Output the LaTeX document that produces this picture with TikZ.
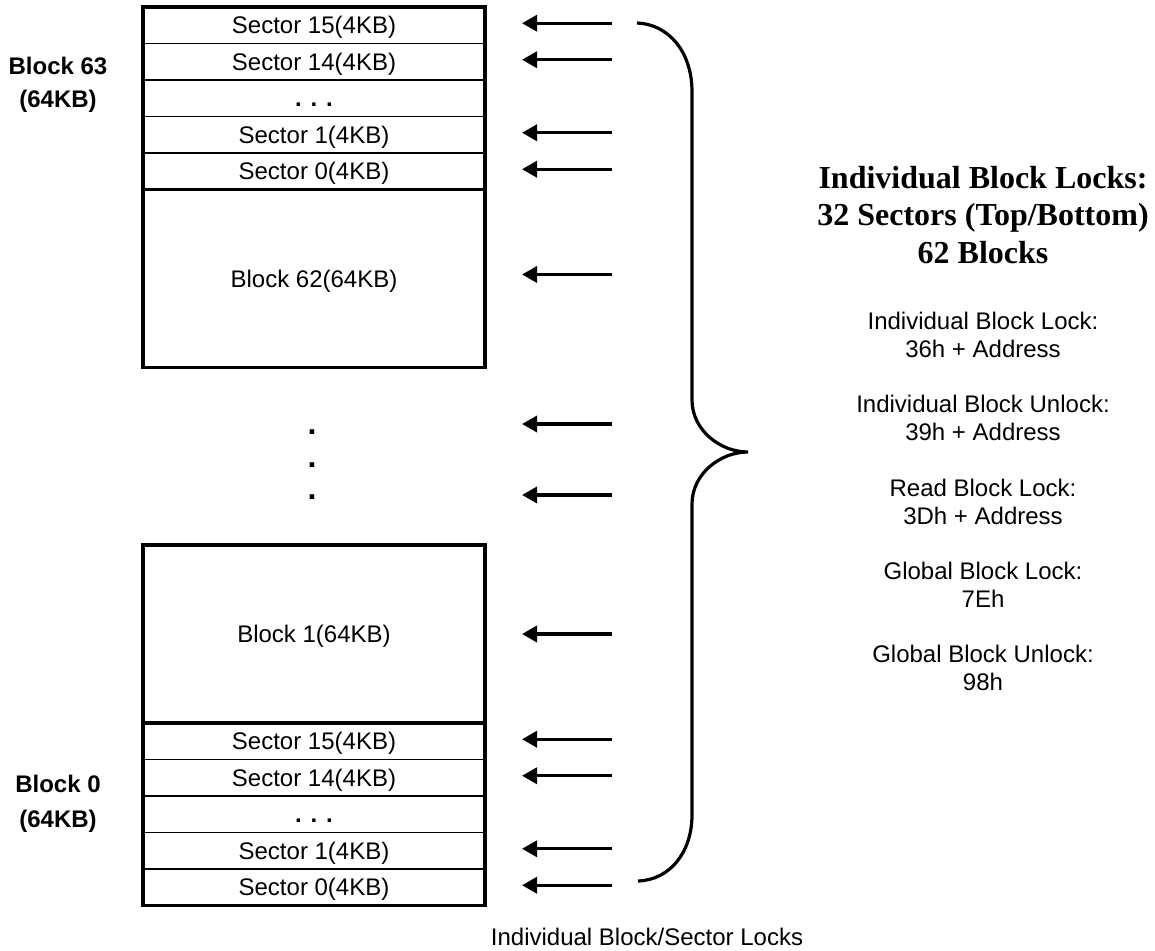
\documentclass[tikz,border=0pt]{standalone}
\usepackage{fontspec}
\setmainfont{Liberation Sans}
\newfontfamily\titlefont{Liberation Serif}
\usetikzlibrary{positioning,arrows.meta}

\begin{document}
\begin{tikzpicture}[
x=0.5pt, y=-0.5pt,
rownode/.style={rectangle, draw=black, line width=0.7pt, outer sep=0pt, inner sep=0pt, minimum width=171pt, minimum height=18.25pt, text height=8.6pt, text depth=0pt, font=\fontsize{12}{14}\selectfont},
blocknode/.style={rownode, minimum height=89pt},
sidelabel/.style={align=center, font=\bfseries\fontsize{12}{16.5}\selectfont},
cmdtext/.style={align=center, font=\fontsize{12}{14}\selectfont},
vdot/.style={inner sep=0pt, font=\bfseries\fontsize{16}{18}\selectfont},
lockarrow/.style={line width=1.7pt, -{Triangle[length=7.5pt, width=8pt]}},
brace/.style={line width=1.6pt},
outline/.style={line width=1.6pt},
]
\useasboundingbox (0,0) rectangle (1155,951);

%Nodes
\node[rownode]      (s15a)                     at (314,25.25) {Sector 15(4KB)};
\node[rownode]      (s14a)   [below=0pt of s15a] {Sector 14(4KB)};
\node[rownode]      (dotsa)  [below=0pt of s14a] {\textbf{. . .}};
\node[rownode]      (s1a)    [below=0pt of dotsa] {Sector 1(4KB)};
\node[rownode]      (s0a)    [below=0pt of s1a]  {Sector 0(4KB)};
\node[blocknode]    (b62)    [below=0pt of s0a]  {Block 62(64KB)};

\node[vdot]         (vd1)                      at (312,432) {.};
\node[vdot]         (vd2)                      at (312,465) {.};
\node[vdot]         (vd3)                      at (312,497) {.};

\node[blocknode]    (b1)                       at (314,634) {Block 1(64KB)};
\node[rownode]      (s15b)   [below=0pt of b1]   {Sector 15(4KB)};
\node[rownode]      (s14b)   [below=0pt of s15b] {Sector 14(4KB)};
\node[rownode]      (dotsb)  [below=0pt of s14b] {\textbf{. . .}};
\node[rownode]      (s1b)    [below=0pt of dotsb] {Sector 1(4KB)};
\node[rownode]      (s0b)    [below=0pt of s1b]  {Sector 0(4KB)};

\node[sidelabel]    (blk63)                    at (58,85)  {Block 63\\(64KB)};
\node[sidelabel, font=\bfseries\fontsize{12}{17.5}\selectfont] (blk0) at (58,804) {Block 0\\(64KB)};

\node[align=center, font=\titlefont\bfseries\fontsize{16}{18.75}\selectfont] (title) at (983,215)
  {Individual Block Locks:\\32 Sectors (Top/Bottom)\\62 Blocks};
\node[cmdtext]      (cmd1)                     at (983,335)   {Individual Block Lock:\\36h + Address};
\node[cmdtext]      (cmd2)                     at (983,418)   {Individual Block Unlock:\\39h + Address};
\node[cmdtext]      (cmd3)                     at (983,501.5) {Read Block Lock:\\3Dh + Address};
\node[cmdtext]      (cmd4)                     at (983,585)   {Global Block Lock:\\7Eh};
\node[cmdtext]      (cmd5)                     at (983,668)   {Global Block Unlock:\\98h};
\node[cmdtext]      (caption)                  at (647,937)   {Individual Block/Sector Locks};

\coordinate (gap1) at (612,424);
\coordinate (gap2) at (612,495);

%Lines
\draw[outline] (s15a.north west) rectangle (b62.south east);
\draw[outline] (s0a.south west) -- (s0a.south east);
\draw[outline] (b1.north west) rectangle (s0b.south east);
\draw[outline] (b1.south west) -- (b1.south east);

\draw[lockarrow] ([xshift=63.5pt,yshift=1pt]s15a.east) -- ([xshift=18.5pt,yshift=1pt]s15a.east);
\draw[lockarrow] ([xshift=63.5pt,yshift=1pt]s14a.east) -- ([xshift=18.5pt,yshift=1pt]s14a.east);
\draw[lockarrow] ([xshift=63.5pt,yshift=1pt]s1a.east)  -- ([xshift=18.5pt,yshift=1pt]s1a.east);
\draw[lockarrow] ([xshift=63.5pt,yshift=1pt]s0a.east)  -- ([xshift=18.5pt,yshift=1pt]s0a.east);
\draw[lockarrow] ([xshift=63.5pt,yshift=2pt]b62.east)  -- ([xshift=18.5pt,yshift=2pt]b62.east);

\draw[lockarrow] (gap1) -- ([xshift=-45pt]gap1);
\draw[lockarrow] (gap2) -- ([xshift=-45pt]gap2);

\draw[lockarrow] ([xshift=63.5pt]b1.east)  -- ([xshift=18.5pt]b1.east);
\draw[lockarrow] ([xshift=63.5pt,yshift=1pt]s15b.east) -- ([xshift=18.5pt,yshift=1pt]s15b.east);
\draw[lockarrow] ([xshift=63.5pt,yshift=1pt]s14b.east) -- ([xshift=18.5pt,yshift=1pt]s14b.east);
\draw[lockarrow] ([xshift=63.5pt,yshift=1pt]s1b.east)  -- ([xshift=18.5pt,yshift=1pt]s1b.east);
\draw[lockarrow] ([xshift=63.5pt,yshift=1pt]s0b.east)  -- ([xshift=18.5pt,yshift=1pt]s0b.east);

%Brace
\draw[brace] (637,23) .. controls (667,24) and (692,50) .. (692,92) -- (692,400)
  .. controls (692,430) and (720,452) .. (748,452)
  .. controls (720,452) and (692,474) .. (692,504) -- (692,815)
  .. controls (692,852) and (670,880) .. (638,881);

\end{tikzpicture}
\end{document}
